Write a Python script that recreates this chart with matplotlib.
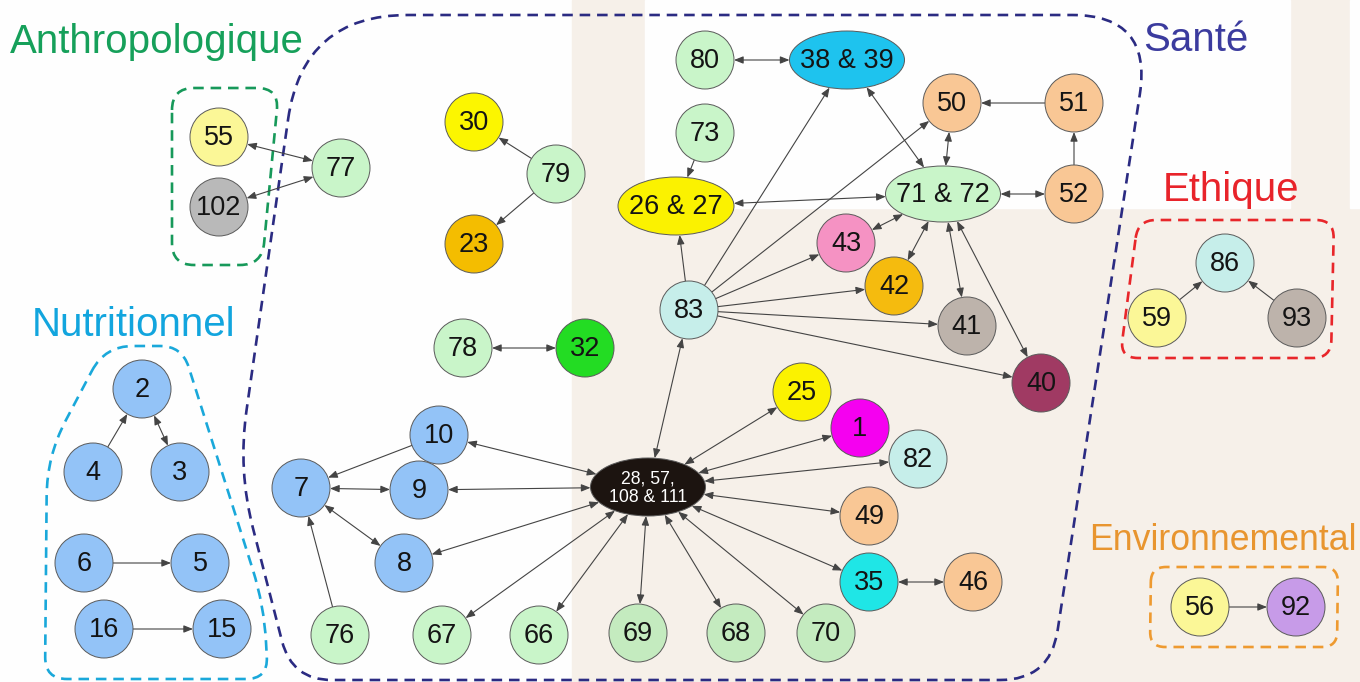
import numpy as np
import matplotlib
matplotlib.use("Agg")
import matplotlib.pyplot as plt
from matplotlib.patches import Circle, Ellipse, Rectangle, PathPatch, FancyArrowPatch
from matplotlib.path import Path

plt.rcParams['font.family'] = ['Liberation Sans', 'DejaVu Sans']

W, H = 1360, 682
R = 29  # node radius, px
HUB = '28, 57,\n108 & 111'

# node layout (picture pixels, y downwards)
pos = {
    '55': (219, 137), '102': (219, 207), '77': (341, 168),
    '30': (474, 122), '79': (556, 174), '23': (474, 244),
    '78': (463, 348), '32': (585, 348),
    '80': (705, 60), '38 & 39': (847, 60), '73': (705, 133), '26 & 27': (676, 206),
    '50': (952, 103), '51': (1074, 103), '71 & 72': (943, 194), '52': (1074, 194),
    '43': (846, 243), '42': (894, 286), '83': (689, 310), '41': (967, 326), '40': (1041, 383),
    '25': (802, 392), '1': (860, 428), '82': (918, 459), HUB: (648, 487),
    '49': (869, 516), '35': (869, 582), '46': (973, 582),
    '10': (439, 435), '7': (301, 488), '9': (419, 490), '8': (404, 563),
    '76': (340, 635), '67': (442, 635), '66': (539, 635),
    '69': (638, 633), '68': (736, 633), '70': (826, 633),
    '2': (142, 389), '4': (93, 472), '3': (180, 472),
    '6': (84, 563), '5': (200, 563), '16': (104, 629), '15': (222, 629),
    '86': (1225, 263), '59': (1157, 318), '93': (1297, 318),
    '56': (1200, 607), '92': (1296, 607),
}

ellipse_size = {'38 & 39': (115, 58), '26 & 27': (116, 58), '71 & 72': (115, 56), HUB: (115, 58)}

light_green = '#c9f5c9'
green_beige = '#c4ebbf'
light_orange = '#f9c795'
blue = '#93c3f7'
light_cyan = '#c6eeea'
light_yellow = '#fbf797'
node_color = {
    '55': light_yellow, '102': '#b9b9b9', '77': light_green,
    '30': '#fcf600', '79': light_green, '23': '#f4bd00',
    '78': light_green, '32': '#23dc23',
    '80': light_green, '38 & 39': '#1ec3ee', '73': light_green, '26 & 27': '#fbf200',
    '50': light_orange, '51': light_orange, '71 & 72': light_green, '52': light_orange,
    '43': '#f592c3', '42': '#f5bb0e', '83': light_cyan, '41': '#bdb3ab', '40': '#a03a63',
    '25': '#fbf200', '1': '#f500f0', '82': light_cyan, HUB: '#1c1410',
    '49': light_orange, '35': '#1fe6e6', '46': light_orange,
    '10': blue, '7': blue, '9': blue, '8': blue,
    '76': light_green, '67': light_green, '66': light_green,
    '69': green_beige, '68': green_beige, '70': green_beige,
    '2': blue, '4': blue, '3': blue, '6': blue, '5': blue, '16': blue, '15': blue,
    '86': light_cyan, '59': light_yellow, '93': '#bdb3ab',
    '56': light_yellow, '92': '#c79be8',
}

# (source, target, bidirectional)
edges = [
    ('55', '77', True), ('102', '77', True),
    ('79', '30', False), ('79', '23', False), ('78', '32', True),
    ('80', '38 & 39', True), ('73', '26 & 27', False), ('26 & 27', '71 & 72', True),
    ('83', '26 & 27', False), ('83', '38 & 39', False), ('83', '50', False),
    ('83', '43', False), ('83', '42', False), ('83', '41', False), ('83', '40', False),
    ('38 & 39', '71 & 72', True), ('50', '71 & 72', True), ('51', '50', False),
    ('52', '51', False), ('71 & 72', '52', True),
    ('71 & 72', '43', True), ('71 & 72', '42', True), ('71 & 72', '41', True), ('71 & 72', '40', True),
    (HUB, '83', True), (HUB, '25', True), (HUB, '1', True), (HUB, '82', True),
    (HUB, '49', True), (HUB, '35', True), (HUB, '10', True), (HUB, '9', True),
    (HUB, '8', True), (HUB, '67', True), (HUB, '66', True), (HUB, '69', True),
    (HUB, '68', True), (HUB, '70', True),
    ('35', '46', True), ('10', '7', False), ('7', '9', True), ('7', '8', True),
    ('76', '7', False),
    ('4', '2', False), ('2', '3', True), ('6', '5', False), ('16', '15', False),
    ('59', '86', False), ('93', '86', False), ('56', '92', False),
]

# group outlines: (name, colour, outline corners, corner radii, label colour, label position, label size)
groups = [
    ('Santé', '#2b2b82', [(303, 15), (1152, 15), (1050, 680), (292, 680), (238, 470)],
     [105, 80, 50, 40, 60], '#3b3b9e', (1143, 40), 29),
    ('Anthropologique', '#17995a', [(172, 88), (279, 88), (262, 265), (172, 265)],
     [22, 22, 22, 22], '#16a05a', (10, 42), 29),
    ('Nutritionnel', '#1aa8da', [(105, 346), (182, 346), (264, 605), (268, 679), (45, 679), (47, 456)],
     [28, 22, 60, 22, 22, 40], '#12a5de', (32, 325), 29),
    ('Ethique', '#e8262a', [(1138, 220), (1334, 220), (1331, 358), (1120, 358)],
     [18, 18, 18, 18], '#e8232a', (1163, 190), 29),
    ('Environnemental', '#ee9a30', [(1151, 567), (1338, 567), (1337, 647), (1150, 647)],
     [15, 15, 15, 15], '#e8952f', (1089, 541), 25.7),
]


def rounded_path(pts, radii):
    pts = [np.array(p, float) for p in pts]
    n = len(pts)
    verts, codes = [], []
    for i in range(n):
        p, prev, nxt = pts[i], pts[i - 1], pts[(i + 1) % n]
        d1, d2 = prev - p, nxt - p
        l1, l2 = np.hypot(*d1), np.hypot(*d2)
        r = min(radii[i], l1 / 2, l2 / 2)
        a = p + d1 / l1 * r
        b = p + d2 / l2 * r
        verts.append(a)
        codes.append(Path.MOVETO if i == 0 else Path.LINETO)
        verts += [p, b]
        codes += [Path.CURVE3, Path.CURVE3]
    verts.append(verts[0])
    codes.append(Path.CLOSEPOLY)
    return Path(verts, codes)


def boundary(name, toward):
    cx, cy = pos[name]
    dx, dy = toward[0] - cx, toward[1] - cy
    if name in ellipse_size:
        a, b = ellipse_size[name][0] / 2, ellipse_size[name][1] / 2
        t = 1 / np.sqrt((dx / a) ** 2 + (dy / b) ** 2)
    else:
        t = R / np.hypot(dx, dy)
    return cx + dx * t, cy + dy * t


fig = plt.figure(figsize=(W / 100, H / 100), dpi=100)
ax = fig.add_axes([0, 0, 1, 1])
ax.set_xlim(0, W)
ax.set_ylim(H, 0)
ax.axis('off')

# background panels
ax.add_patch(Rectangle((0, 0), W, H, color='#fefefe', zorder=0))
ax.add_patch(Rectangle((572, 0), W - 572, H, color='#f6f0e9', zorder=0))
ax.add_patch(Rectangle((645, 0), 645, 208, color='#fefefe', zorder=0))
ax.add_patch(Rectangle((1350, 0), 10, 208, color='#fefefe', zorder=0))

for name, ec, corners, radii, tc, (tx, ty), fs in groups:
    ax.add_patch(PathPatch(rounded_path(corners, radii), fill=False, ec=ec, lw=1.9,
                           ls=(0, (4, 2.6)), zorder=1))
    ax.text(tx, ty, name, color=tc, fontsize=fs, ha='left', va='center', zorder=5)

for src, dst, both in edges:
    p1 = boundary(src, pos[dst])
    p2 = boundary(dst, pos[src])
    style = '<|-|>,head_length=0.55,head_width=0.22' if both else '-|>,head_length=0.55,head_width=0.22'
    ax.add_patch(FancyArrowPatch(p1, p2, arrowstyle=style, mutation_scale=10,
                                 shrinkA=0, shrinkB=0, lw=0.8, color='#444444', zorder=2))

for name, (x, y) in pos.items():
    if name in ellipse_size:
        w, h = ellipse_size[name]
        ax.add_patch(Ellipse((x, y), w, h, fc=node_color[name], ec='#5a5a5a', lw=0.7, zorder=3))
    else:
        ax.add_patch(Circle((x, y), R, fc=node_color[name], ec='#5a5a5a', lw=0.7, zorder=3))
    if name == HUB:
        ax.text(x, y + 1, name, color='white', fontsize=12.7, ha='center', va='center',
                linespacing=1.15, zorder=4)
    else:
        ax.text(x, y + 1, name, color='#141414', fontsize=19.5, ha='center', va='center', zorder=4)

fig.savefig('out.png', dpi=100)
